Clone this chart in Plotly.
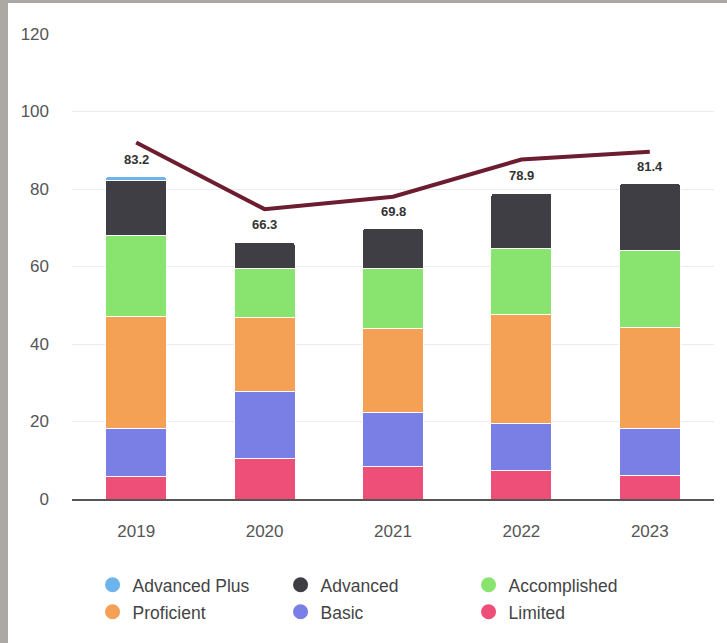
import plotly.graph_objects as go

years = ["2019", "2020", "2021", "2022", "2023"]
limited = [5.9, 10.4, 8.3, 7.3, 6.1]
basic = [12.3, 17.4, 13.9, 12.1, 12.1]
proficient = [28.9, 19.1, 21.7, 28.1, 26.1]
accomplished = [21.0, 12.7, 15.5, 17.1, 19.8]
advanced = [14.2, 6.7, 10.4, 14.3, 17.3]
advanced_plus = [0.9, 0, 0, 0, 0]
target_line = [92.0, 74.8, 78.0, 87.6, 89.6]

series = [
    ("Limited", limited, "#ee4f78"),
    ("Basic", basic, "#7a7fe6"),
    ("Proficient", proficient, "#f4a055"),
    ("Accomplished", accomplished, "#88e46f"),
    ("Advanced", advanced, "#3e3e44"),
    ("Advanced Plus", advanced_plus, "#6db3ec"),
]
legend_row1 = ["Advanced Plus", "Advanced", "Accomplished"]
legend_row2 = ["Proficient", "Basic", "Limited"]

totals = [round(sum(v[i] for _, v, _ in series), 1) for i in range(len(years))]

FONT = "Liberation Sans, Arial, sans-serif"

fig = go.Figure()
for name, vals, color in series:
    fig.add_trace(go.Bar(
        x=years, y=vals, name=name, marker_color=color,
        marker_line=dict(color="white", width=1),
        showlegend=False, hoverinfo="y",
    ))

fig.add_trace(go.Scatter(
    x=years, y=target_line, mode="lines",
    line=dict(color="#6c1d2f", width=4), showlegend=False,
))

colors = {n: c for n, _, c in series}
for legend_id, row in (("legend", legend_row1), ("legend2", legend_row2)):
    for name in row:
        fig.add_trace(go.Scatter(
            x=[years[0]], y=[None], mode="markers", name=name,
            marker=dict(symbol="circle", size=15, color=colors[name]),
            showlegend=True, legend=legend_id,
        ))

for idx, tot in enumerate(totals):
    fig.add_annotation(
        x=idx, y=tot, text=f"<b>{tot:.1f}</b>", showarrow=False,
        xref="x", yref="y",
        yanchor="bottom", yshift=8,
        font=dict(family=FONT, size=13, color="#333333"),
    )

# window background (gray spreadsheet edge)
fig.add_shape(
    type="rect", xref="paper", yref="paper",
    x0=(8 - 72) / 642, x1=(740 - 72) / 642,
    y0=(499 - 660) / 465, y1=(499 - 3) / 465,
    fillcolor="white", line=dict(width=0), layer="below",
)

legend_common = dict(
    orientation="h", xanchor="left", yanchor="top",
    entrywidth=143, entrywidthmode="pixels", traceorder="normal",
    font=dict(family=FONT, size=17.5, color="#444444"),
    itemsizing="trace", bgcolor="rgba(0,0,0,0)",
)

fig.update_layout(
    width=727, height=643,
    margin=dict(l=72, r=13, t=34, b=144),
    paper_bgcolor="#aca8a3",
    plot_bgcolor="rgba(0,0,0,0)",
    barmode="stack",
    bargap=0.525,
    barcornerradius=3,
    font=dict(family=FONT, size=15, color="#555555"),
    showlegend=True,
    legend=dict(x=0.032, y=-0.146, **legend_common),
    legend2=dict(x=0.032, y=-0.204, **legend_common),
    xaxis=dict(
        type="category", categoryorder="array", categoryarray=years,
        range=[-0.5, 4.5], showgrid=False, showline=True,
        linecolor="#555555", linewidth=1.5, ticks="",
        ticklabelstandoff=16, tickfont=dict(family=FONT, size=17, color="#555555"),
    ),
    yaxis=dict(
        range=[0, 120], dtick=20, showgrid=True, gridcolor="#ececec",
        gridwidth=1, zeroline=False, showline=False, ticks="",
        ticklabelstandoff=22, tickfont=dict(family=FONT, size=17, color="#555555"),
    ),
)

fig.write_html(
    "out.html",
    config={"displayModeBar": False},
    post_script="document.body.style.margin='0';document.body.style.overflow='hidden';",
)
